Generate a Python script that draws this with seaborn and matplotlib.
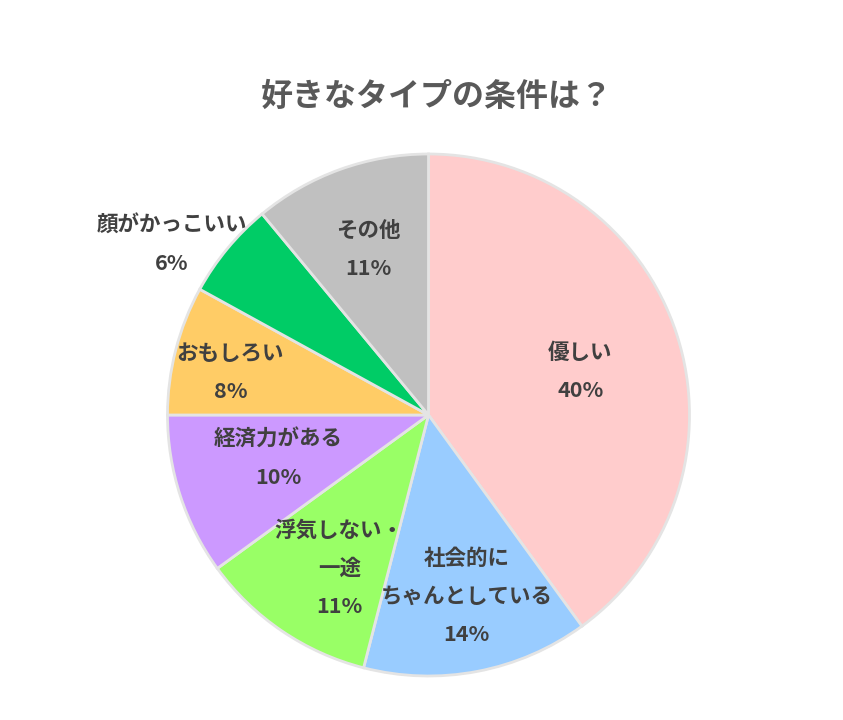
import numpy as np
import matplotlib
matplotlib.use("Agg")
import matplotlib.pyplot as plt
import seaborn as sns

categories = ["優しい", "社会的に\nちゃんとしている", "浮気しない・\n一途", "経済力がある",
              "おもしろい", "顔がかっこいい", "その他"]
values = [40, 14, 11, 10, 8, 6, 11]
pct_labels = ["40%", "14%", "11%", "10%", "8%", "6%", "11%"]
colors = ["#FFCCCC", "#99CCFF", "#99FF66", "#CC99FF", "#FFCC66", "#00CC66", "#C0C0C0"]
label_r = [0.605, 0.71, 0.68, 0.60, 0.776, 1.18, 0.675]
label_dang = [-2, 1, 4, -2, 2.4, 6, 0]

sns.set_theme(style="white")
plt.rcParams['font.family'] = ['Noto Sans CJK JP', 'DejaVu Sans']

fig = plt.figure(figsize=(8.43, 7.2), dpi=100)
fig.patch.set_facecolor("white")
cx, cy = 428.5 / 843, 1 - 415 / 720
rw, rh = 261 / 843, 261 / 720
ax = fig.add_axes([cx - rw, cy - rh, 2 * rw, 2 * rh])

wedges, _ = ax.pie(values, colors=sns.color_palette(colors), startangle=90, counterclock=False,
                   radius=1.0, wedgeprops=dict(edgecolor="#E4E4E4", linewidth=2, clip_on=False))
ax.set_xlim(-1, 1)
ax.set_ylim(-1, 1)
ax.set_aspect("auto")
ax.axis("off")

line_step = 27.5  # points between label lines
for w, cat, pct, r, da in zip(wedges, categories, pct_labels, label_r, label_dang):
    ang = np.deg2rad((w.theta1 + w.theta2) / 2 + da)
    x, y = r * np.cos(ang), r * np.sin(ang)
    lines = cat.split("\n") + [pct]
    n = len(lines)
    for i, ln in enumerate(lines):
        off = ((n - 1) / 2 - i) * line_step
        ax.annotate(ln, (x, y), xytext=(0, off), textcoords="offset points",
                    ha="center", va="center", fontsize=15.5, fontweight="bold",
                    color="#404040", annotation_clip=False)

fig.text(437 / 843, 1 - 97 / 720, "好きなタイプの条件は？", ha="center", va="center",
         fontsize=23, fontweight="bold", color="#595959")

fig.savefig("out.png", dpi=100, facecolor="white")
